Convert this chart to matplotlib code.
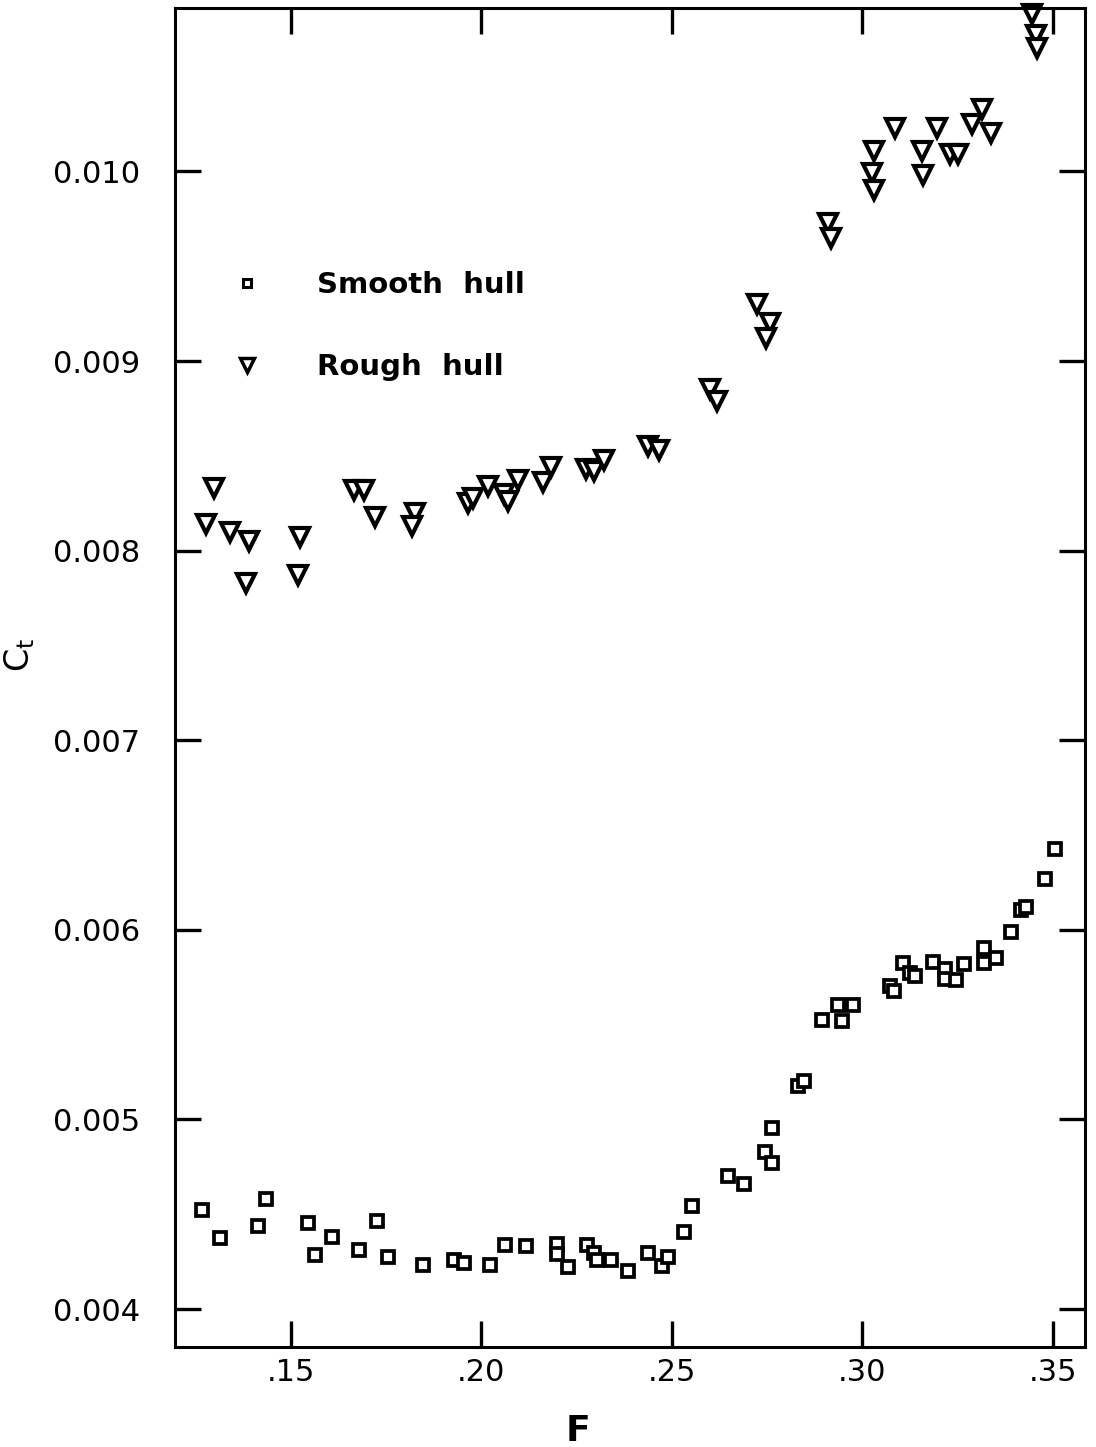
import matplotlib
matplotlib.use('Agg')
from matplotlib import pyplot as plt
from matplotlib.lines import Line2D

# Froude number F and total resistance coefficient Ct
SMOOTH_F = [0.1268, 0.1313, 0.1414, 0.1434, 0.1545, 0.1564, 0.1608, 0.1678,
            0.1727, 0.1754, 0.1846, 0.1927, 0.1954, 0.2023, 0.2063, 0.2117,
            0.2199, 0.2198, 0.2228, 0.2277, 0.2295, 0.2303, 0.2341, 0.2384,
            0.2437, 0.2474, 0.2490, 0.2531, 0.2552, 0.2646, 0.2690, 0.2743,
            0.2763, 0.2762, 0.2830, 0.2846, 0.2895, 0.2937, 0.2946, 0.2975,
            0.3073, 0.3082, 0.3107, 0.3124, 0.3137, 0.3184, 0.3216, 0.3216,
            0.3246, 0.3267, 0.3320, 0.3320, 0.3350, 0.3390, 0.3417, 0.3429,
            0.3479, 0.3506]
SMOOTH_CT = [0.004521, 0.004376, 0.004438, 0.004582, 0.004453, 0.004286,
             0.004382, 0.004311, 0.004462, 0.004275, 0.004233, 0.004258,
             0.004241, 0.004235, 0.004340, 0.004334, 0.004344, 0.004292,
             0.004223, 0.004339, 0.004295, 0.004260, 0.004259, 0.004201,
             0.004297, 0.004226, 0.004275, 0.004407, 0.004542, 0.004700,
             0.004658, 0.004828, 0.004770, 0.004954, 0.005174, 0.005201,
             0.005522, 0.005605, 0.005517, 0.005605, 0.005705, 0.005678,
             0.005824, 0.005775, 0.005757, 0.005832, 0.005792, 0.005740,
             0.005734, 0.005821, 0.005905, 0.005826, 0.005849, 0.005989,
             0.006107, 0.006119, 0.006270, 0.006428]

ROUGH_F = [0.1297, 0.1278, 0.1341, 0.1390, 0.1381, 0.1524, 0.1518, 0.1665,
           0.1691, 0.1722, 0.1827, 0.1819, 0.1966, 0.1979, 0.2016, 0.2058,
           0.2071, 0.2095, 0.2161, 0.2182, 0.2274, 0.2295, 0.2322, 0.2437,
           0.2466, 0.2599, 0.2617, 0.2724, 0.2758, 0.2747, 0.2910, 0.2917,
           0.3029, 0.3024, 0.3029, 0.3085, 0.3155, 0.3160, 0.3195, 0.3229,
           0.3250, 0.3314, 0.3287, 0.3337, 0.3445, 0.3455, 0.3458]
ROUGH_CT = [0.00833, 0.00814, 0.00810, 0.00805, 0.00783, 0.00807, 0.00787,
            0.00832, 0.00832, 0.00818, 0.00820, 0.00813, 0.00825, 0.00828,
            0.00834, 0.00830, 0.00826, 0.00837, 0.00836, 0.00844, 0.00843,
            0.00842, 0.00848, 0.00855, 0.00853, 0.00885, 0.00879, 0.00930,
            0.00920, 0.00912, 0.00973, 0.00965, 0.01011, 0.00999, 0.00990,
            0.01023, 0.01011, 0.00998, 0.01023, 0.01009, 0.01009, 0.01033,
            0.01025, 0.01020, 0.01083, 0.01072, 0.01065]

X_TICKS = [0.15, 0.20, 0.25, 0.30, 0.35]
X_LABELS = ['.15', '.20', '.25', '.30', '.35']
Y_TICKS = [0.004, 0.005, 0.006, 0.007, 0.008, 0.009, 0.010]
Y_LABELS = ['0.004', '0.005', '0.006', '0.007', '0.008', '0.009', '0.010']

fig = plt.figure(figsize=(10.96, 14.47), dpi=100)
ax = fig.add_axes([0.1597, 0.0691, 0.990 - 0.1597, 0.9945 - 0.0691])

ax.plot(SMOOTH_F, SMOOTH_CT, linestyle='none', marker='s', markersize=8.5,
        markerfacecolor='white', markeredgecolor='black', markeredgewidth=2.7,
        clip_on=False)
ax.plot(ROUGH_F, ROUGH_CT, linestyle='none', marker='v', markersize=13,
        markerfacecolor='white', markeredgecolor='black', markeredgewidth=3.0,
        clip_on=False)

ax.set_xlim(0.1196, 0.3584)
ax.set_ylim(0.0038, 0.010862)

ax.set_xticks(X_TICKS)
ax.set_xticklabels(X_LABELS)
ax.set_yticks(Y_TICKS)
ax.set_yticklabels(Y_LABELS)
ax.tick_params(axis='both', direction='in', length=19, width=2.4,
               labelsize=22, top=True, right=True)
ax.tick_params(axis='x', pad=8)
ax.tick_params(axis='y', pad=25)

for s in ax.spines.values():
    s.set_linewidth(2.2)

ax.set_xlabel('F', fontsize=26, fontweight='bold')
ax.xaxis.set_label_coords(0.443, -0.05)
ax.set_ylabel(r'C$_\mathsf{t}$', fontsize=24)
ax.yaxis.set_label_coords(-0.152, 0.517)

handles = [
    Line2D([], [], linestyle='none', marker='s', markersize=6,
           markerfacecolor='white', markeredgecolor='black', markeredgewidth=2.2),
    Line2D([], [], linestyle='none', marker='v', markersize=10,
           markerfacecolor='white', markeredgecolor='black', markeredgewidth=2.5),
]
ax.legend(handles, ['Smooth  hull', 'Rough  hull'], loc='upper left',
          bbox_to_anchor=(0.018, 0.823), frameon=False, handletextpad=1.4,
          labelspacing=1.85, prop={'size': 21, 'weight': 'bold'})

fig.savefig('out.png', dpi=100)
